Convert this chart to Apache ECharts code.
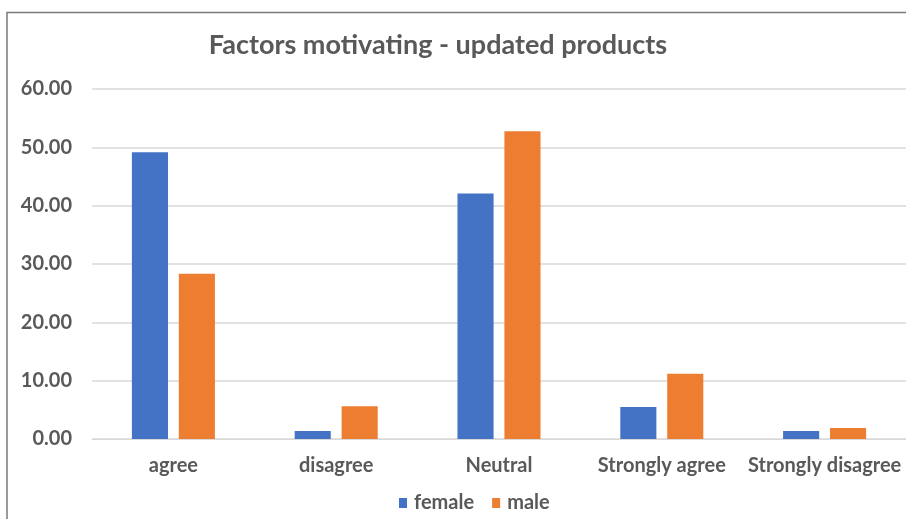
<!DOCTYPE html>
<html>
<head>
<meta charset="utf-8">
<script src="https://cdn.jsdelivr.net/npm/echarts@6/dist/echarts.min.js"></script>
<style>
  html, body { margin: 0; padding: 0; background: #ffffff; }
  #chart { width: 906px; height: 519px; }
</style>
</head>
<body>
<div id="chart"></div>
<script>
// Response categories and the share (%) of each gender choosing them
const categories = ['agree', 'disagree', 'Neutral', 'Strongly agree', 'Strongly disagree'];
const female = [49.15, 1.37, 42.1, 5.49, 1.37];
const male = [28.35, 5.6, 52.75, 11.2, 1.89];
const yTicks = { min: 0, max: 60, interval: 10 };

const textColor = '#595959';
const font = 'Lato, "Open Sans", sans-serif';

const chart = echarts.init(document.getElementById('chart'), null, { renderer: 'canvas' });

chart.setOption({
  backgroundColor: '#ffffff',
  animation: false,
  title: {
    text: 'Factors motivating - updated products',
    left: 433,
    top: 27,
    textAlign: 'center',
    textStyle: { color: textColor, fontFamily: font, fontSize: 27, fontWeight: 'bold' }
  },
  legend: {
    data: ['female', 'male'],
    left: 394,
    top: 488,
    icon: 'rect',
    itemWidth: 8,
    itemHeight: 10,
    itemGap: 18,
    textStyle: { color: textColor, fontFamily: font, fontSize: 20, fontWeight: 'bold', padding: [0, 0, 0, 2] }
  },
  grid: { left: 92, right: 0, top: 89, bottom: 80 },
  xAxis: {
    type: 'category',
    data: categories,
    axisTick: { show: false },
    axisLine: { lineStyle: { color: '#d9d9d9', width: 1 } },
    axisLabel: { color: textColor, fontFamily: font, fontSize: 20, fontWeight: 'bold', margin: 17, interval: 0 }
  },
  yAxis: {
    type: 'value',
    min: yTicks.min,
    max: yTicks.max,
    interval: yTicks.interval,
    axisLine: { show: false },
    axisTick: { show: false },
    splitLine: { lineStyle: { color: '#d9d9d9', width: 1.5 } },
    axisLabel: {
      color: textColor, fontFamily: font, fontSize: 20, fontWeight: 'bold', margin: 20,
      formatter: v => v.toFixed(2)
    }
  },
  series: [
    {
      name: 'female', type: 'bar', data: female,
      barGap: '30%', barCategoryGap: '49%',
      itemStyle: { color: '#4472C4' }
    },
    {
      name: 'male', type: 'bar', data: male,
      itemStyle: { color: '#ED7D31' }
    }
  ],
  graphic: [
    {
      type: 'polyline',
      shape: { points: [[7, 519], [7, 12.5], [906, 12.5]] },
      style: { stroke: '#7a7a7a', lineWidth: 1.5, fill: null },
      silent: true
    }
  ]
});
</script>
</body>
</html>
